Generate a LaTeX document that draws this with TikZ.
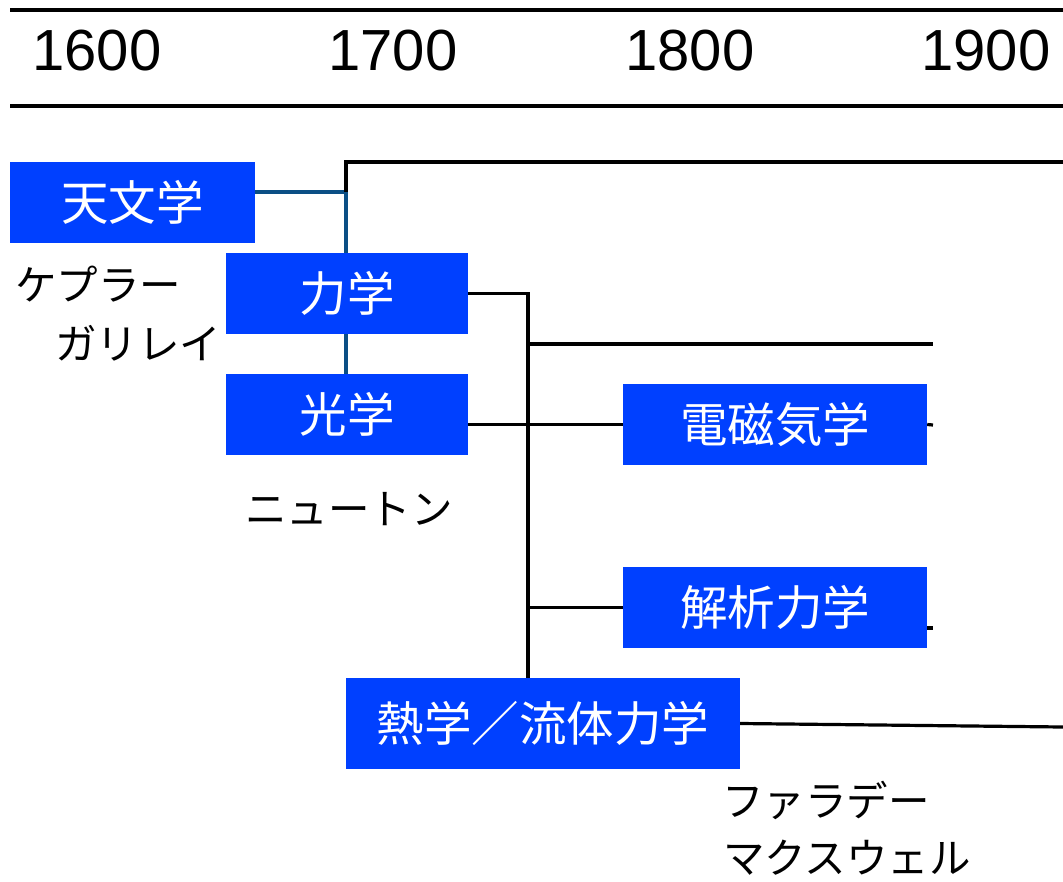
\documentclass[tikz,border=0pt]{standalone}
\usepackage{fontspec}
\setmainfont{Noto Sans CJK JP}
\newfontfamily\yearfont{Liberation Sans}
\definecolor{boxblue}{HTML}{0040FF}
\definecolor{linkblue}{HTML}{0B4F85}
\begin{document}
\begin{tikzpicture}[x=1pt,y=-1pt,
  field/.style={fill=boxblue, text=white, inner sep=0pt, font=\fontsize{47.5}{52}\selectfont},
  blk/.style={line width=3.2pt, black},
  bln/.style={line width=3.2pt, linkblue},
  year/.style={font=\yearfont\fontsize{58}{60}\selectfont, inner sep=0pt},
  person/.style={font=\fontsize{41.5}{46}\selectfont, inner sep=0pt}]
\useasboundingbox (0,0) rectangle (1063,881);
% timeline rules
\coordinate (r1a) at (10,10); \coordinate (r1b) at (1063,10);
\coordinate (r2a) at (10,106); \coordinate (r2b) at (1063,106);
\draw[line width=3.5pt] (r1a) -- (r1b);
\draw[line width=3.5pt] (r2a) -- (r2b);
\node[year] (y1600) at (97,51) {1600};
\node[year] (y1700) at (393,51) {1700};
\node[year] (y1800) at (690,51) {1800};
\node[year] (y1900) at (986,51) {1900};
% boxes
\node[field, minimum width=245pt, minimum height=81pt] (tenmon) at (132.5,202.5) {天文学};
\node[field, minimum width=242pt, minimum height=81pt] (riki) at (347,293.5) {力学};
\node[field, minimum width=242pt, minimum height=81pt] (kou) at (347,414.5) {光学};
\node[field, minimum width=304pt, minimum height=81pt] (denji) at (775,424.5) {電磁気学};
\node[field, minimum width=304pt, minimum height=81pt] (kaiseki) at (775,607.5) {解析力学};
\node[field, minimum width=394pt, minimum height=91pt] (netsu) at (543,723.5) {熱学／流体力学};
% people
\node[person] (kepler) at (98,284) {ケプラー};
\node[person] (galilei) at (138,343) {ガリレイ};
\node[person] (newton) at (349,509) {ニュートン};
\node[person] (faraday) at (826,800) {ファラデー};
\node[person] (maxwell) at (847,858) {マクスウェル};
% junction coordinates
\coordinate (j1) at (346,192);
\coordinate (top) at (346,162);
\coordinate (topend) at (1063,162);
\coordinate (t1) at (528,293.5);
\coordinate (b1) at (528,344);
\coordinate (b1e) at (933,344);
\coordinate (dstub) at (933,425);
\coordinate (kstub0) at (927,628);
\coordinate (kstub) at (933,628);
\coordinate (nend) at (1063,727);
% connectors
\draw[bln] (tenmon.east |- j1) -- (j1) -- (riki.north -| j1);
\draw[bln] (riki.south -| j1) -- (kou.north -| j1);
\draw[blk] (j1) -- (top) -- (topend);
\draw[blk] (riki.east |- t1) -- (t1) -- (netsu.north -| t1);
\draw[blk] (b1) -- (b1e);
\draw[blk] (kou.east |- denji.west) -- (denji.west);
\draw[blk] (denji.east) -- (dstub);
\draw[blk] (kaiseki.west -| t1) -- (kaiseki.west);
\draw[blk] (kstub0) -- (kstub);
\draw[blk] (netsu.east) -- (nend);
\end{tikzpicture}
\end{document}
